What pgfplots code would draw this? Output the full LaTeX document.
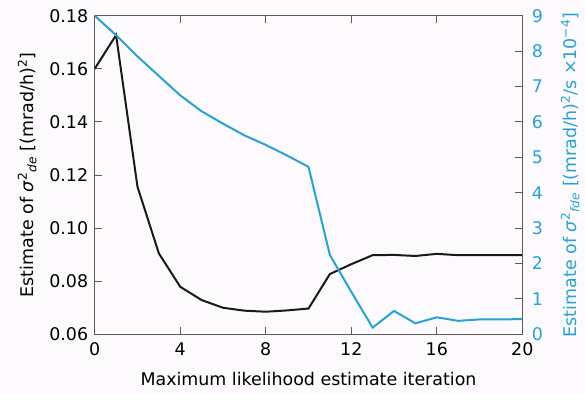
\documentclass[border=0pt]{standalone}
\usepackage{pgfplots}
\pgfplotsset{compat=1.18}
\usepackage{fontspec}
\setmainfont{DejaVu Sans}
\definecolor{cyanl}{RGB}{38,163,212}
\definecolor{axgray}{RGB}{95,88,88}
\definecolor{bg}{RGB}{252,250,252}
\definecolor{blk}{RGB}{25,25,25}
\begin{document}
\begin{tikzpicture}
\useasboundingbox (-94.7bp,-59.7bp) rectangle (490.3bp,334.3bp);
\fill[bg] (-94.7bp,-59.7bp) rectangle (490.3bp,334.3bp);
\pgfplotsset{
  every axis/.append style={
    scale only axis, width=427.6bp, height=318.6bp,
    at={(0,0)}, anchor=south west,
    xmin=0, xmax=20,
    font=\fontsize{17.5}{20}\selectfont,
    tick align=inside, major tick length=7bp,
    every tick/.style={axgray, line width=1pt},
    axis line style={axgray, line width=1.1pt},
    /pgf/number format/assume math mode=true,
  },
}
\begin{axis}[
  ymin=0.06, ymax=0.18,
  ytick={0.06,0.08,0.10,0.12,0.14,0.16,0.18},
  yticklabel style={xshift=-3bp, /pgf/number format/.cd, fixed, fixed zerofill, precision=2},
  xtick={0,4,8,12,16,20},
  xtick pos=both, xticklabel pos=bottom,
  xticklabel style={yshift=-5bp},
  ytick pos=left,
  xlabel={Maximum likelihood estimate iteration},
  xlabel style={yshift=-9bp},
  ylabel={Estimate of \textit{σ}\textsuperscript{2}\textsubscript{\textit{de}} [(mrad/h)\textsuperscript{2}]},
  ylabel style={yshift=6bp},
]
\addplot[blk, line width=2pt] coordinates {
(0,0.160) (1,0.1727) (2,0.1156) (3,0.0905) (4,0.0779) (5,0.0729) (6,0.0700)
(7,0.0689) (8,0.0685) (9,0.0690) (10,0.0697) (11,0.0827) (12,0.0864)
(13,0.0898) (14,0.0899) (15,0.0895) (16,0.0903) (17,0.0898) (18,0.0898)
(19,0.0898) (20,0.0898)};
\end{axis}
\begin{axis}[
  ymin=0, ymax=9,
  ytick={0,1,...,9},
  axis x line=none,
  axis y line*=right,
  yticklabel style={cyanl, xshift=6bp},
  ylabel style={cyanl, yshift=-11bp},
  ylabel={Estimate of \textit{σ}\textsuperscript{2}\textsubscript{\textit{fde}} [(mrad/h)\textsuperscript{2}/s ×10\textsuperscript{−4}]},
]
\addplot[cyanl, line width=2pt] coordinates {
(0,9.0) (1,8.45) (2,7.85) (3,7.3) (4,6.75) (5,6.3) (6,5.95) (7,5.62)
(8,5.35) (9,5.05) (10,4.73) (11,2.24) (12,1.2) (13,0.19) (14,0.66)
(15,0.31) (16,0.48) (17,0.38) (18,0.42) (19,0.42) (20,0.43)};
\end{axis}
\end{tikzpicture}
\end{document}
